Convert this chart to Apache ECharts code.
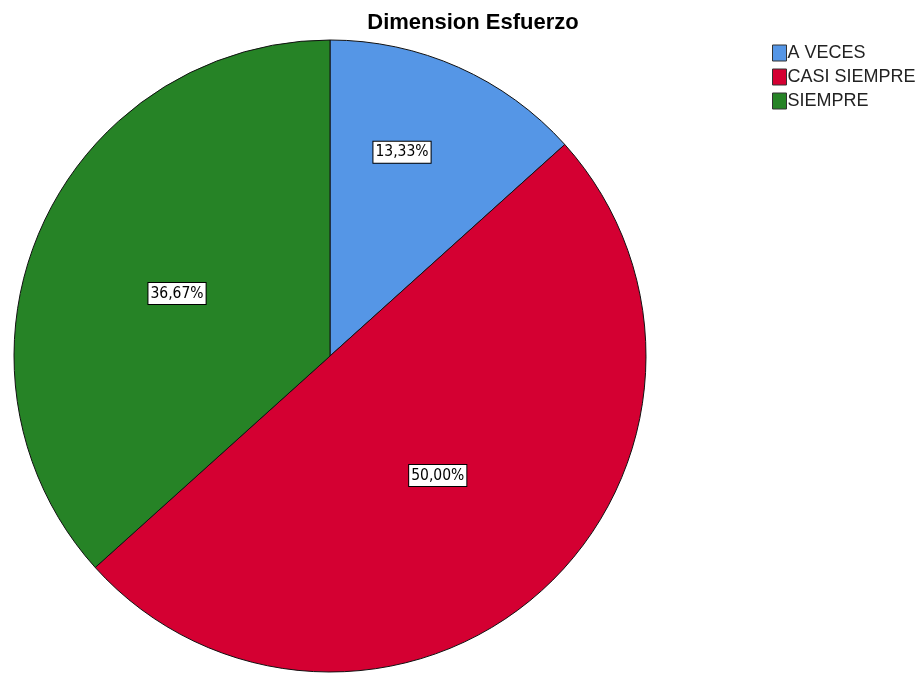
<!DOCTYPE html>
<html>
<head>
<meta charset="utf-8">
<script src="https://cdn.jsdelivr.net/npm/echarts@6/dist/echarts.min.js"></script>
<style>html,body{margin:0;padding:0;background:#fff}#c{width:921px;height:673px}</style>
</head>
<body>
<div id="c"></div>
<script>
var titleText = 'Dimension Esfuerzo';
var categories = ['A VECES', 'CASI SIEMPRE', 'SIEMPRE'];
var values = [13.33, 50.00, 36.67];
var labelTexts = ['13,33%', '50,00%', '36,67%'];
var colors = ['#5596e6', '#d40032', '#268326'];
var labelScaleX = [1.10, 1.00, 1.04];
var labelScaleY = [1.385, 1.00, 0.955];

var CX = 330, CY = 356, R = 316;
var chart = echarts.init(document.getElementById('c'));
chart.setOption({
  animation: false,
  title: {
    text: titleText, left: 468, top: 7, textAlign: 'center',
    textStyle: {fontFamily: 'Liberation Sans, Arial, sans-serif', fontSize: 22, fontWeight: 'bold', color: '#000'}
  },
  legend: {
    orient: 'vertical', left: 767, top: 39, itemWidth: 14, itemHeight: 16, itemGap: 6,
    icon: 'rect',
    itemStyle: {borderColor: '#333', borderWidth: 1},
    textStyle: {fontFamily: 'Liberation Sans, Arial, sans-serif', fontSize: 18, lineHeight: 16, color: '#222', padding: [0,0,0,-4]},
    data: categories
  },
  series: [{
    type: 'pie',
    center: [CX, CY], radius: [0, R],
    startAngle: 90, clockwise: true,
    itemStyle: {borderColor: '#111', borderWidth: 1},
    emphasis: {disabled: true},
    label: {
      show: true, position: 'inside',
      formatter: function (p) { return labelTexts[p.dataIndex]; },
      fontFamily: 'DejaVu Sans Condensed, Liberation Sans Narrow, sans-serif',
      fontSize: 15.5, color: '#000',
      backgroundColor: '#fff', borderColor: '#000', borderWidth: 1,
      padding: [3, 2, 2, 2]
    },
    labelLayout: function (p) {
      var r = p.labelRect;
      var lx = r.x + r.width / 2, ly = r.y + r.height / 2;
      var i = p.dataIndex;
      return {x: CX + (lx - CX) * labelScaleX[i], y: CY + (ly - CY) * labelScaleY[i], align: 'center', verticalAlign: 'middle'};
    },
    data: categories.map(function (c, i) {
      return {name: c, value: values[i], itemStyle: {color: colors[i]}};
    })
  }]
});
</script>
</body>
</html>
